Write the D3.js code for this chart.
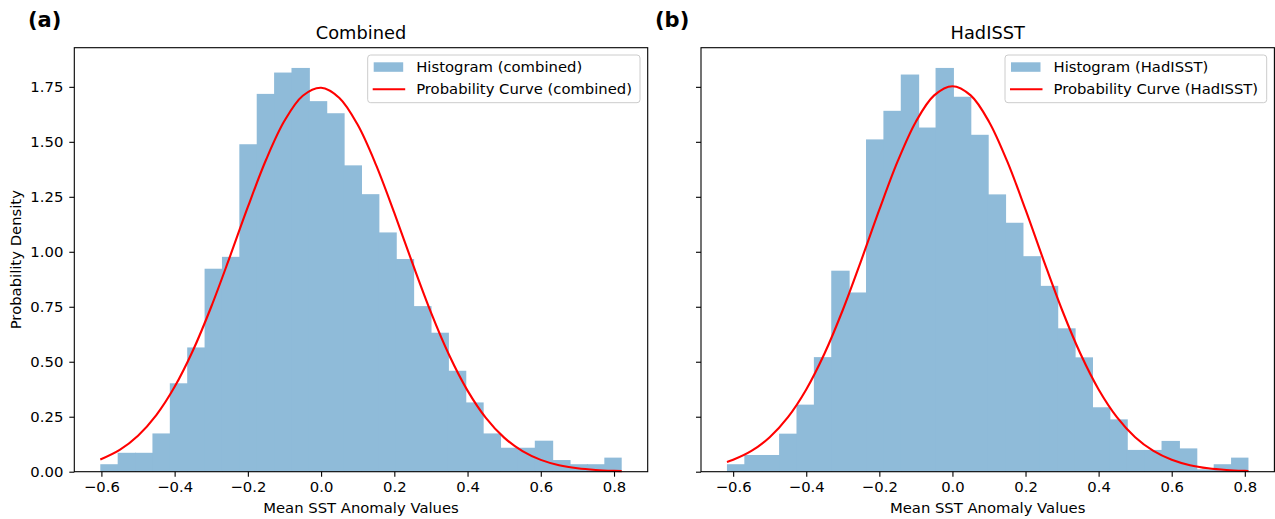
<!DOCTYPE html>
<meta charset="utf-8">
<style>
body { margin: 0; background: #fff; }
svg { display: block; }
text { font-family: "DejaVu Sans", sans-serif; fill: #000; }
.tick text { font-size: 14.8px; }
.tick line { stroke: #000; stroke-width: 1.1px; }
.domain { display: none; }
</style>
<html>
  <head>
    <script type="text/javascript" src="https://cdn.jsdelivr.net/npm/d3@7"></script>
  </head>
  <body>
    <script type="text/javascript">
var width = 1275, height = 519;

// histogram densities, 30 equal bins over each data range
var combinedRange = [-0.603, 0.821];
var combinedDensity = [0.034, 0.086, 0.086, 0.174, 0.402, 0.565, 0.923, 0.977, 1.489, 1.718,
  1.815, 1.836, 1.685, 1.630, 1.393, 1.262, 1.088, 0.967, 0.753, 0.632,
  0.459, 0.315, 0.174, 0.109, 0.109, 0.141, 0.053, 0.034, 0.034, 0.064];

var hadRange = [-0.617, 0.810];
var hadDensity = [0.034, 0.076, 0.076, 0.173, 0.305, 0.521, 0.914, 0.815, 1.511, 1.641,
  1.806, 1.565, 1.836, 1.705, 1.532, 1.261, 1.132, 0.980, 0.845, 0.652,
  0.520, 0.293, 0.238, 0.099, 0.099, 0.140, 0.106, 0.011, 0.034, 0.064];

// probability curve
var combinedCurveX = [-0.603, -0.55, -0.5, -0.45, -0.4, -0.35, -0.3, -0.25, -0.2, -0.15, -0.1, -0.05, 0,
  0.05, 0.1, 0.15, 0.2, 0.25, 0.3, 0.35, 0.4, 0.45, 0.5, 0.55, 0.6, 0.65, 0.7, 0.75, 0.8, 0.821];
var combinedCurveY = [0.0556, 0.0994, 0.1639, 0.2576, 0.3860, 0.5511, 0.7501, 0.9733, 1.2040, 1.4195, 1.5955, 1.7094, 1.7457,
  1.6996, 1.5772, 1.3952, 1.1767, 0.9458, 0.7247, 0.5294, 0.3687, 0.2447, 0.1548, 0.0934, 0.0537, 0.0294, 0.0154, 0.0077, 0.0036, 0.0026];

var hadCurveX = [-0.617, -0.6, -0.55, -0.5, -0.45, -0.4, -0.35, -0.3, -0.25, -0.2, -0.15, -0.1, -0.05, 0,
  0.05, 0.1, 0.15, 0.2, 0.25, 0.3, 0.35, 0.4, 0.45, 0.5, 0.55, 0.6, 0.65, 0.7, 0.75, 0.8, 0.81];
var hadCurveY = [0.0444, 0.0543, 0.0946, 0.1570, 0.2483, 0.3741, 0.5374, 0.7353, 0.9589, 1.1914, 1.4107, 1.5916, 1.7111, 1.7529,
  1.7111, 1.5916, 1.4107, 1.1914, 0.9589, 0.7353, 0.5374, 0.3741, 0.2483, 0.1570, 0.0946, 0.0543, 0.0297, 0.0155, 0.0077, 0.0036, 0.0031];

var xTicks = [-0.6, -0.4, -0.2, 0.0, 0.2, 0.4, 0.6, 0.8];
var yTicks = [0, 0.25, 0.5, 0.75, 1.0, 1.25, 1.5, 1.75];

var panels = [
  {tag: "(a)", title: "Combined", name: "combined", range: combinedRange, dens: combinedDensity,
   cx: combinedCurveX, cy: combinedCurveY, left: 74.3, right: 647.7, xdom: [-0.674, 0.892], ylabels: true, tagX: 28},
  {tag: "(b)", title: "HadISST", name: "HadISST", range: hadRange, dens: hadDensity,
   cx: hadCurveX, cy: hadCurveY, left: 701, right: 1274.4, xdom: [-0.688, 0.881], ylabels: false, tagX: 655}
];

var plotTop = 47.7, plotBottom = 471.7;
var barColor = "#8fbbd9";
var fmtX = function(d) { return d3.format(".1f")(d).replace("-", "\u2212"); };

var svg = d3.select("body").append("svg")
    .attr("width", width)
    .attr("height", height);

var y = d3.scaleLinear().domain([0, 1.928]).range([plotBottom, plotTop]);

panels.forEach(function(p) {
  var x = d3.scaleLinear().domain(p.xdom).range([p.left, p.right]);
  var g = svg.append("g");

  var n = p.dens.length;
  var bw = (p.range[1] - p.range[0]) / n;

  // bars overlap by a pixel so no seams show (last one keeps its true edge)
  g.selectAll("rect.bar").data(p.dens).enter().append("rect")
      .attr("class", "bar")
      .attr("x", function(d, i) { return x(p.range[0] + i * bw); })
      .attr("width", function(d, i) {
        return x(p.range[0] + (i + 1) * bw) - x(p.range[0] + i * bw) + (i < n - 1 ? 1 : 0);
      })
      .attr("y", function(d) { return y(d); })
      .attr("height", function(d) { return y(0) - y(d); })
      .attr("fill", barColor);

  var pts = p.cx.map(function(v, i) { return [v, p.cy[i]]; });
  var line = d3.line()
      .x(function(d) { return x(d[0]); })
      .y(function(d) { return y(d[1]); })
      .curve(d3.curveCatmullRom);
  g.append("path")
      .datum(pts)
      .attr("d", line)
      .attr("fill", "none")
      .attr("stroke", "#ff0000")
      .attr("stroke-width", 2.1);

  // axes
  g.append("g")
      .attr("transform", "translate(0," + plotBottom + ")")
      .call(d3.axisBottom(x).tickValues(xTicks).tickFormat(fmtX).tickSize(5).tickPadding(5));
  g.append("g")
      .attr("transform", "translate(" + p.left + ",0)")
      .call(d3.axisLeft(y).tickValues(yTicks)
        .tickFormat(p.ylabels ? d3.format(".2f") : function() { return ""; })
        .tickSize(5).tickPadding(6));

  // spines
  g.append("rect")
      .attr("x", p.left).attr("y", plotTop)
      .attr("width", p.right - p.left).attr("height", plotBottom - plotTop)
      .attr("fill", "none").attr("stroke", "#000").attr("stroke-width", 1.1);

  // title and labels
  var mid = (p.left + p.right) / 2;
  g.append("text").attr("x", mid).attr("y", 39)
      .attr("text-anchor", "middle").style("font-size", "17.8px").text(p.title);
  g.append("text").attr("x", mid).attr("y", 513)
      .attr("text-anchor", "middle").style("font-size", "14.8px").text("Mean SST Anomaly Values");
  g.append("text").attr("x", p.tagX).attr("y", 27)
      .style("font-size", "21px").style("font-weight", "bold").text(p.tag);

  // legend
  var lw = p.ylabels ? 272.3 : 261.7;
  var lx = p.right - 7.7 - lw;
  var leg = g.append("g").attr("transform", "translate(" + lx + ",55)");
  leg.append("rect").attr("width", lw).attr("height", 47.7).attr("rx", 3)
      .attr("fill", "#fff").attr("fill-opacity", 0.8)
      .attr("stroke", "#cccccc").attr("stroke-width", 1);
  leg.append("rect").attr("x", 6).attr("y", 7.3).attr("width", 29.5).attr("height", 9.5)
      .attr("fill", barColor);
  leg.append("line").attr("x1", 5).attr("x2", 37.5).attr("y1", 34.3).attr("y2", 34.3)
      .attr("stroke", "#ff0000").attr("stroke-width", 2.1);
  leg.append("text").attr("x", 48.5).attr("y", 17).style("font-size", "14.8px")
      .text("Histogram (" + p.name + ")");
  leg.append("text").attr("x", 48.5).attr("y", 39.3).style("font-size", "14.8px")
      .text("Probability Curve (" + p.name + ")");
});

svg.append("text")
    .attr("transform", "translate(21," + ((plotTop + plotBottom) / 2) + ") rotate(-90)")
    .attr("text-anchor", "middle").style("font-size", "14.8px")
    .text("Probability Density");
    </script>
  </body>
</html>
